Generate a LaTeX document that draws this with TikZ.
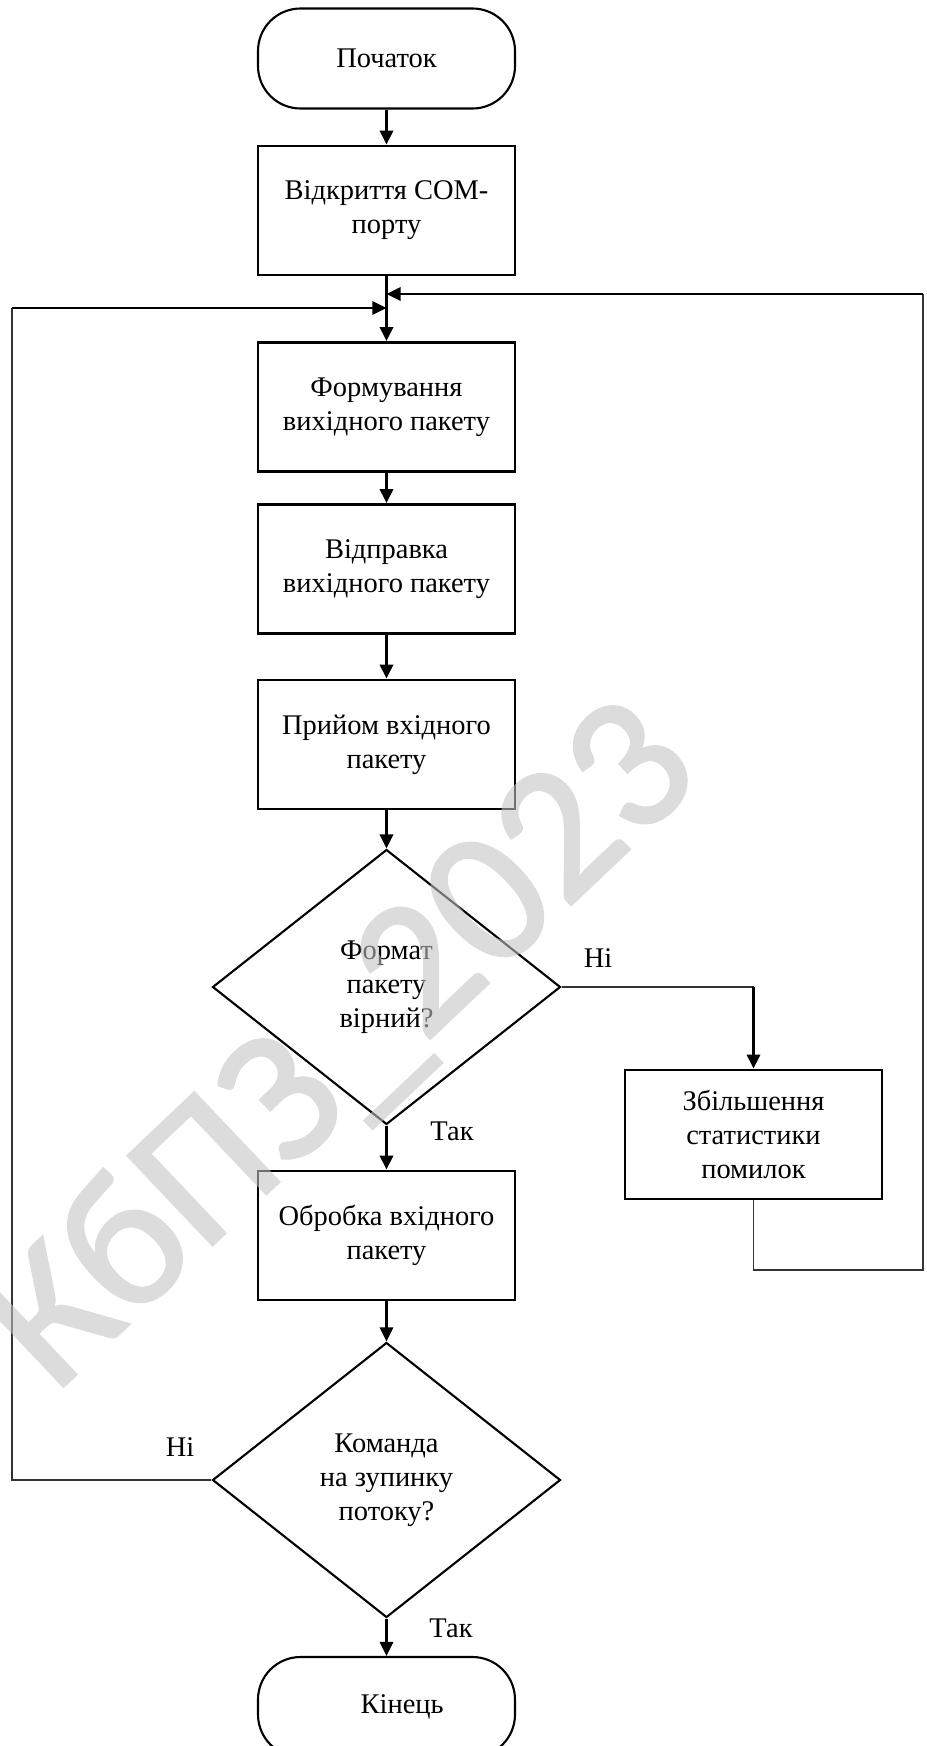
\documentclass[tikz,border=0pt]{standalone}
\usepackage{fontspec}
\setmainfont{Liberation Serif}
\newfontfamily\wmfont{Carlito}[FakeBold=1.5]
\usetikzlibrary{shapes.geometric,arrows.meta}

\begin{document}
\begin{tikzpicture}[scale=1.0,
  every node/.style={font=\fontsize{16.2}{19.5}\selectfont},
  term/.style={draw,line width=1.2pt,rounded corners=0.85cm,minimum width=5.14cm,minimum height=2cm,align=center},
  proc/.style={draw,line width=1.6pt,minimum width=5.14cm,minimum height=2.58cm,align=center},
  cond/.style={draw,diamond,line width=1.2pt,minimum width=6.96cm,minimum height=5.5cm,inner sep=0pt,align=center},
  arr/.style={line width=1.6pt,-{Triangle[length=8pt,width=7.5pt]}},
  thinline/.style={line width=0.6pt,black!80}]
\useasboundingbox (0,0) rectangle (18.54,-34.92);
\node[term] (start) at (7.73,-1.17) {Початок};
\node[proc] (open) at (7.73,-4.21) {Відкриття COM-\\порту};
\node[proc] (form) at (7.73,-8.14) {Формування\\вихідного пакету};
\node[proc] (send) at (7.73,-11.38) {Відправка\\вихідного пакету};
\node[proc] (recv) at (7.73,-14.89) {Прийом вхідного\\пакету};
\node[cond] (check) at (7.73,-19.74) {Формат\\пакету\\вірний?};
\node[proc] (err) at (15.07,-22.69) {Збільшення\\статистики\\помилок};
\node[proc] (handle) at (7.73,-24.71) {Обробка вхідного\\пакету};
\node[cond] (stop) at (7.73,-29.6) {Команда\\на зупинку\\потоку?};
\node[term] (end) at (7.73,-34.14) {\hspace*{1.1em}Кінець};
\node (no1) at (11.96,-19.16) {Ні};
\node (yes1) at (9.04,-22.62) {Так};
\node (no2) at (3.6,-28.94) {Ні};
\node (yes2) at (9.02,-32.56) {Так};
\coordinate (MR) at (7.73,-5.88);
\coordinate (ML) at (7.73,-6.16);
\coordinate (RT) at (18.46,-5.88);
\coordinate (RB) at (18.46,-25.4);
\coordinate (LT) at (0.24,-6.16);
\coordinate (LB) at (0.24,-29.6);
\coordinate (NB) at (15.07,-19.74);
\foreach \a/\b in {start/open,open/form,form/send,send/recv,recv/check,check/handle,handle/stop,stop/end}
	\draw[arr] (\a) -- (\b);
\draw[thinline] (check.east) -- (NB);
\draw[arr] (NB) -- (err);
\draw[thinline] (err.south) |- (RB) -- (RT);
\draw[arr] (RT) -- (MR);
\draw[thinline] (stop.west) -- (LB) -- (LT);
\draw[arr] (LT) -- (ML);
\begin{scope}[transparency group,opacity=0.58]
\node[rotate=43.5,text=black!24,font=\wmfont\fontsize{109}{109}\selectfont] (wm) at (6.88,-20.96) {КбПЗ\_2023};
\end{scope}
\end{tikzpicture}
\end{document}
